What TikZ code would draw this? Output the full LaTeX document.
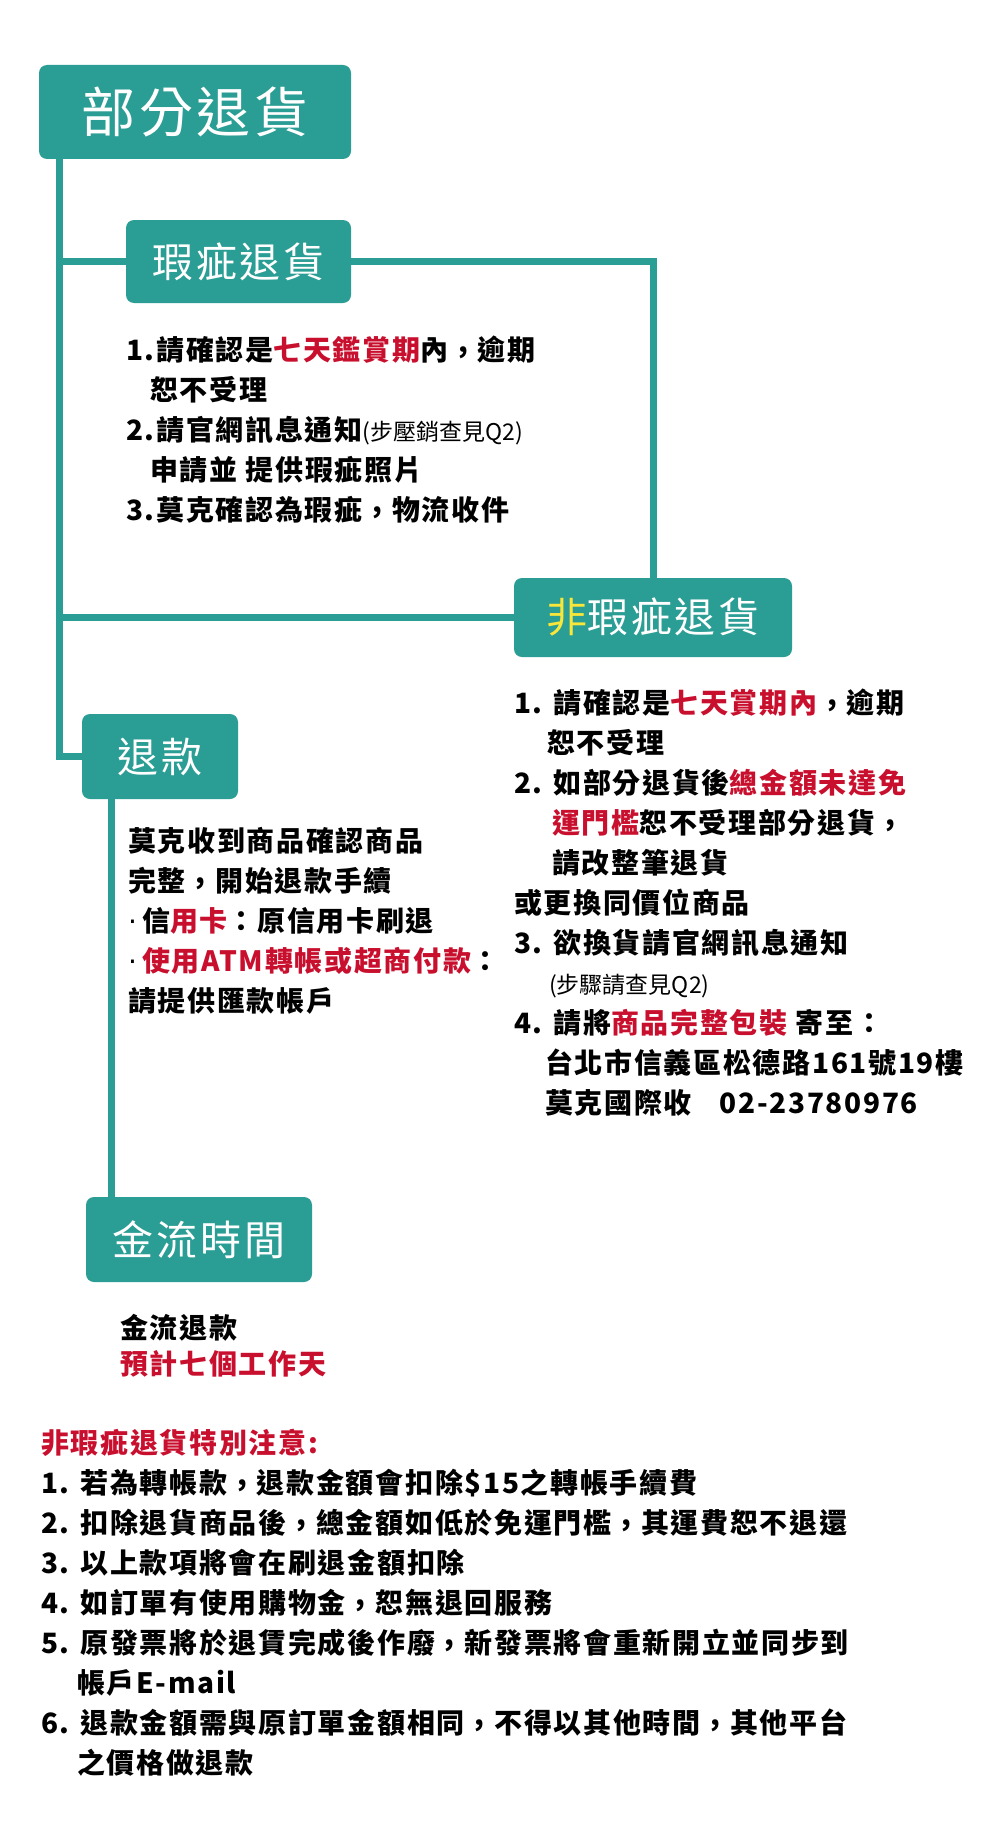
\documentclass[tikz,border=0pt]{standalone}
\usepackage{fontspec}
\setmainfont{Noto Sans CJK TC}
\newfontfamily\dotfont{DejaVu Sans}
\definecolor{mkteal}{HTML}{2A9D94}
\definecolor{mkred}{HTML}{C8102E}
\definecolor{mkyellow}{HTML}{F9E63A}
\newcommand{\hot}[1]{\textcolor{mkred}{#1}}
\newcommand{\dotitem}{{\dotfont\mdseries ·}\hspace{5pt}}
\newcommand{\tcomma}{\makebox[1.06em]{\raisebox{0.28em}{,}}}
\newcommand{\bodyfont}{\fontsize{28}{40}\selectfont\bfseries\addfontfeature{LetterSpace=6}}
\newcommand{\smallnote}{\fontsize{23}{40}\selectfont\mdseries\addfontfeature{LetterSpace=0}}
\tikzset{
  box/.style={fill=mkteal, rounded corners=8pt, text=white, inner sep=0pt,
    font=\fontsize{41}{41}\selectfont\addfontfeature{LetterSpace=7}},
  link/.style={draw=mkteal, line width=7pt},
  textblock/.style={anchor=north west, inner sep=0pt, align=left, font=\bodyfont},
}
\begin{document}
\begin{tikzpicture}[x=1pt, y=-1pt]
		\useasboundingbox (0,0) rectangle (1000,1846);
		% boxes
		\node[box, minimum width=312pt, minimum height=94pt,
		      font=\fontsize{54}{54}\selectfont\addfontfeature{LetterSpace=7}] (whole) at (195,112) {部分退貨};
		\node[box, minimum width=225pt, minimum height=83pt] (defect) at (238.5,261.5) {瑕疵退貨};
		\node[box, minimum width=278pt, minimum height=79pt] (nodefect) at (653,617.5) {\textcolor{mkyellow}{非}瑕疵退貨};
		\node[box, minimum width=156pt, minimum height=85pt] (refund) at (160,756.5) {退款};
		\node[box, minimum width=226pt, minimum height=85pt] (cashflow) at (199,1239.5) {金流時間};
		% connectors
		\coordinate (trunk) at ([xshift=20.5pt]whole.south west);
		\draw[link] (trunk) |- (refund.west);
		\draw[link] (trunk |- defect.west) -- (defect.west);
		\draw[link] (trunk |- nodefect.west) -- (nodefect.west);
		\draw[link] (defect.east) -| (nodefect.north);
		\draw[link] ([xshift=30pt]refund.south west) -- ([xshift=30pt]refund.south west |- cashflow.north);
		% texts
		\node[textblock] (defectnote) at (126,336) {1.請確認是\hot{七天鑑賞期}內\tcomma 逾期\\
			\hspace*{24pt}恕不受理\\
			2.請官網訊息通知{\smallnote(步壓銷查見Q2)}\\
			\hspace*{24pt}申請並 提供瑕疵照片\\
			3.莫克確認為瑕疵\tcomma 物流收件};
		\node[textblock] (nodefectnote) at (514,689) {1. 請確認是\hot{七天賞期內}\tcomma 逾期\\
			\hspace*{33pt}恕不受理\\
			2. 如部分退貨後\hot{總金額未達免}\\
			\hspace*{38pt}\hot{運門檻}恕不受理部分退貨\tcomma\\
			\hspace*{38pt}請改整筆退貨\\
			或更換同價位商品\\
			3. 欲換貨請官網訊息通知\\
			\hspace*{35pt}{\smallnote(步驟請查見Q2)}\\
			4. 請將\hot{商品完整包裝} 寄至：\\
			\hspace*{31pt}台北市信義區松德路161號19樓\\
			\hspace*{31pt}莫克國際收\quad 02-23780976};
		\node[textblock] (refundnote) at (128,827) {莫克收到商品確認商品\\
			完整\tcomma 開始退款手續\\
			\dotitem 信\hot{用卡}：原信用卡刷退\\
			\dotitem\hot{使用ATM轉帳或超商付款}：\\
			請提供匯款帳戶};
		\node[textblock, font=\fontsize{28}{36}\selectfont\bfseries\addfontfeature{LetterSpace=6}] (cashnote) at (120,1314) {金流退款\\
			\hot{預計七個工作天}};
		\node[textblock] (warning) at (41,1429) {\hot{非瑕疵退貨特別注意:}\\
			1. 若為轉帳款\tcomma 退款金額會扣除\$15之轉帳手續費\\
			2. 扣除退貨商品後\tcomma 總金額如低於免運門檻\tcomma 其運費恕不退還\\
			3. 以上款項將會在刷退金額扣除\\
			4. 如訂單有使用購物金\tcomma 恕無退回服務\\
			5. 原發票將於退賃完成後作廢\tcomma 新發票將會重新開立並同步到\\
			\hspace*{36pt}帳戶E-mail\\
			6. 退款金額需與原訂單金額相同\tcomma 不得以其他時間\tcomma 其他平台\\
			\hspace*{36pt}之價格做退款};
	\end{tikzpicture}
\end{document}
